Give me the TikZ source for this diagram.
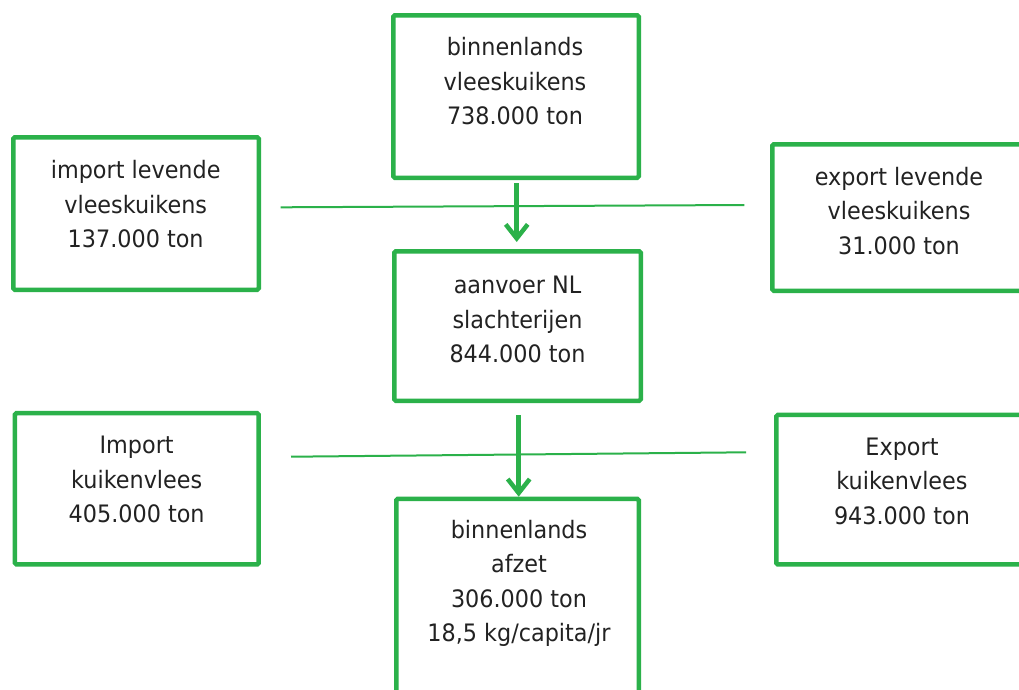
\documentclass[tikz,border=0pt]{standalone}
\usepackage{fontspec}
\setmainfont{DejaVu Sans}[FakeStretch=0.93]
\usetikzlibrary{arrows.meta}
\definecolor{flowgreen}{RGB}{43,177,74}
\definecolor{inktext}{RGB}{34,34,34}
\begin{document}
\begin{tikzpicture}[x=1pt,y=-1pt,
  flowbox/.style={draw=flowgreen, line width=4.5pt, rounded corners=1.5pt,
    inner sep=0pt, fill=white},
  boxtext/.style={align=center, text=inktext, inner sep=0pt,
    font=\fontsize{24}{34.5}\selectfont},
  flowarrow/.style={draw=flowgreen, line width=4.5pt,
    -{Straight Barb[length=14pt,width=22pt]}},
  crossline/.style={draw=flowgreen, line width=2pt}]
\useasboundingbox (0,0) rectangle (1019,689);
\clip (0,0) rectangle (1019,689);

% boxes
\node[flowbox, minimum width=245.5pt, minimum height=162.5pt] (dombirds) at (516,96.5) {};
\node[flowbox, minimum width=245.5pt, minimum height=152.5pt] (implive) at (136,213.5) {};
\node[flowbox, minimum width=255.5pt, minimum height=146.5pt] (explive) at (900,217.5) {};
\node[flowbox, minimum width=246.5pt, minimum height=149.5pt] (slaughter) at (517.5,326) {};
\node[flowbox, minimum width=243.8pt, minimum height=151.2pt] (impmeat) at (136.8,488.8) {};
\node[flowbox, minimum width=255.5pt, minimum height=149.5pt] (expmeat) at (904,489.7) {};
\node[flowbox, minimum width=242.5pt, minimum height=258.8pt] (domsales) at (517.5,628.3) {};

% labels
\node[boxtext] (tdombirds) at (515,81.5) {binnenlands\\vleeskuikens\\738.000 ton};
\node[boxtext] (timplive) at (135.7,204.5) {import levende\\vleeskuikens\\137.000 ton};
\node[boxtext] (texplive) at (899,211) {export levende\\vleeskuikens\\31.000 ton};
\node[boxtext] (tslaughter) at (517.5,319.5) {aanvoer NL\\slachterijen\\844.000 ton};
\node[boxtext] (timpmeat) at (136.7,479.5) {Import\\kuikenvlees\\405.000 ton};
\node[boxtext] (texpmeat) at (902,481.2) {Export\\kuikenvlees\\943.000 ton};
\node[boxtext] (tdomsales) at (519,583.5) {binnenlands\\afzet\\306.000 ton\\18,5 kg/capita/jr};

% horizontal trade lines
\coordinate (livea) at (280.7,207.3);
\coordinate (liveb) at (744.3,205);
\coordinate (meata) at (291,456.7);
\coordinate (meatb) at (746,452.3);
\draw[crossline] (livea) -- (liveb);
\draw[crossline] (meata) -- (meatb);

% flow arrows
\draw[flowarrow, shorten <=3pt, shorten >=7pt]
  ([xshift=0.7pt]dombirds.south) -- ([xshift=0.7pt]dombirds.south |- slaughter.north);
\draw[flowarrow, shorten <=12pt]
  ([xshift=1.2pt]slaughter.south) -- ([xshift=1.2pt]slaughter.south |- domsales.north);
\end{tikzpicture}
\end{document}
